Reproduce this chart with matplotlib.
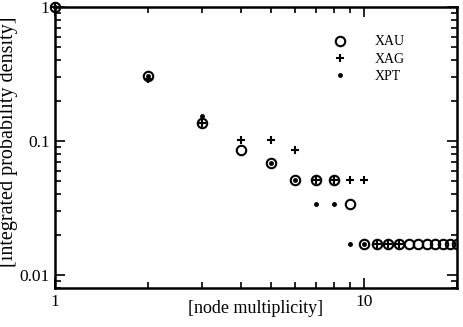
import numpy as np
import matplotlib.pyplot as plt
from matplotlib.ticker import LogLocator, NullFormatter, FixedLocator, FixedFormatter

plt.rcParams['font.family'] = ['Liberation Serif', 'DejaVu Serif']

# data (integrated probability density)
x_au = [1, 2, 3, 4, 5, 6, 7, 8, 9, 10, 11, 12, 13, 14, 15, 16, 17, 18, 19, 20]
y_au = [1.0, 0.305, 0.136, 0.085, 0.068, 0.051, 0.051, 0.051, 0.034, 0.017,
        0.017, 0.017, 0.017, 0.017, 0.017, 0.017, 0.017, 0.017, 0.017, 0.017]

x_ag = [1, 2, 3, 4, 5, 6, 7, 8, 9, 10, 11, 12, 13]
y_ag = [1.0, 0.29, 0.136, 0.102, 0.102, 0.085, 0.051, 0.051, 0.051, 0.051,
        0.017, 0.017, 0.017]

x_pt = [1, 2, 3, 5, 6, 7, 8, 9, 10]
y_pt = [1.0, 0.305, 0.1525, 0.068, 0.051, 0.034, 0.034, 0.017, 0.017]

fig = plt.figure(figsize=(4.63, 3.27), dpi=100)
ax = fig.add_axes([0.119, 0.119, 0.868, 0.860])

styles = [
    (x_au, y_au, dict(marker='o', ms=6.8, mfc='none', mec='black', mew=1.5), 'XAU'),
    (x_ag, y_ag, dict(marker='+', ms=5.5, mec='black', mew=1.5), 'XAG'),
    (x_pt, y_pt, dict(marker='.', ms=5, color='black', mec='black'), 'XPT'),
]
for xs, ys, st, lab in styles:
    # first point sits on the corner of the frame, drawn unclipped like the original
    ax.plot(xs[:1], ys[:1], ls='none', clip_on=False, **st)
    ax.plot(xs[1:], ys[1:], ls='none', label=lab, **st)

ax.set_xscale('log')
ax.set_yscale('log')
ax.set_xlim(1, 20)
ax.set_ylim(0.008, 1)

ax.xaxis.set_major_locator(FixedLocator([1, 10]))
ax.xaxis.set_major_formatter(FixedFormatter(['1', '10']))
ax.xaxis.set_minor_locator(LogLocator(base=10, subs=np.arange(2, 10)))
ax.xaxis.set_minor_formatter(NullFormatter())
ax.yaxis.set_major_locator(FixedLocator([0.01, 0.1, 1]))
ax.yaxis.set_major_formatter(FixedFormatter(['0.01', '0.1', '1']))
ax.yaxis.set_minor_locator(LogLocator(base=10, subs=np.arange(2, 10)))
ax.yaxis.set_minor_formatter(NullFormatter())

ax.tick_params(which='both', direction='in', top=True, right=True, labelsize=12.5, width=1.2)
ax.tick_params(which='major', length=7, pad=4)
ax.tick_params(which='minor', length=4)
for s in ax.spines.values():
    s.set_linewidth(1.8)

ax.set_xlabel('[node multiplicity]', fontsize=13, va='center')
ax.xaxis.set_label_coords(0.5, -0.071)
ax.set_ylabel('[integrated probability density]', fontsize=14.5, va='center')
ax.yaxis.set_label_coords(-0.117, 0.52)

ax.legend(loc='upper left', bbox_to_anchor=(0.66, 0.918), frameon=False, fontsize=10,
          handletextpad=1.5, labelspacing=0.3, borderaxespad=0)

fig.savefig('out.png', dpi=100)
